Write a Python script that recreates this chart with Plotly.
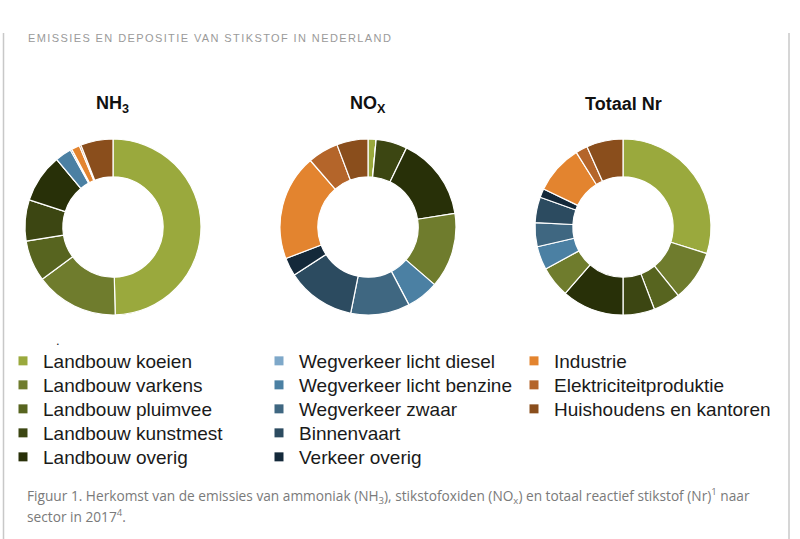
import plotly.graph_objects as go

W, H = 800, 539

# ---------------- data ----------------
sectors = [
    "Landbouw koeien", "Landbouw varkens", "Landbouw pluimvee",
    "Landbouw kunstmest", "Landbouw overig",
    "Wegverkeer licht diesel", "Wegverkeer licht benzine",
    "Wegverkeer zwaar", "Binnenvaart", "Verkeer overig",
    "Industrie", "Elektriciteitproduktie", "Huishoudens en kantoren",
]
legend_colors = [
    "#9aa93d", "#6f7c2d", "#57641f", "#3c4612", "#283008",
    "#7ea8c9", "#4b80a3", "#3f6781", "#2c4b60", "#14293a",
    "#e3842f", "#b4652a", "#8a4e1c",
]
# in the donuts the "licht diesel" slice is drawn in olive
slice_colors = [
    "#9aa93d", "#6f7c2d", "#57641f", "#3c4612", "#283008",
    "#6f7c2d", "#4b80a3", "#3f6781", "#2c4b60", "#14293a",
    "#e3842f", "#b4652a", "#8a4e1c",
]
nh3_share = [49.3, 15.2, 7.5, 7.5, 8.9, 0.0, 3.0, 0.3, 0.0, 0.0, 1.5, 0.3, 5.9]
nox_share = [1.5, 0.0, 0.0, 5.8, 15.5, 14.0, 6.0, 11.0, 12.8, 3.4, 19.7, 5.7, 5.8]
nr_share = [29.9, 9.3, 5.0, 5.8, 11.4, 5.7, 4.3, 4.4, 4.7, 1.6, 9.0, 2.2, 6.7]
chart_titles = ["<b>NH<sub>3</sub></b>", "<b>NO<sub>X</sub></b>", "<b>Totaal Nr</b>"]
legend_column_of = [0, 0, 0, 0, 0, 1, 1, 1, 1, 1, 2, 2, 2]
legend_row_of = [0, 1, 2, 3, 4, 0, 1, 2, 3, 4, 0, 1, 2]

header = "EMISSIES EN DEPOSITIE VAN STIKSTOF IN NEDERLAND"
caption1 = ("Figuur 1. Herkomst van de emissies van ammoniak (NH<sub>3</sub>), "
            "stikstofoxiden (NO<sub>x</sub>) en totaal reactief stikstof (Nr)<sup>1</sup> naar")
caption2 = "sector in 2017<sup>4</sup>."


def px(x):
    return x / W


def py(y):
    return 1 - y / H


# ---------------- figure ----------------
fig = go.Figure()

centers_x = [113, 368, 623]
cy, r = 227, 88
for vals, cx in zip([nh3_share, nox_share, nr_share], centers_x):
    fig.add_trace(go.Pie(
        labels=sectors, values=vals, hole=0.57, sort=False,
        direction="clockwise", rotation=0,
        marker=dict(colors=slice_colors, line=dict(color="white", width=1.2)),
        textinfo="none", hoverinfo="label+percent", showlegend=False,
        domain=dict(x=[px(cx - r), px(cx + r)], y=[py(cy + r), py(cy - r)]),
    ))

# one small legend per entry so that rows sit at the reference spacing
legend_text_x = [43, 299, 554]
legend_row_y0, legend_row_dy = 361, 24
legend_font = dict(family="Liberation Sans, Arial, sans-serif", size=19, color="#1a1a1a")
layout_legends = {}
for i, name in enumerate(sectors):
    lid = "legend" if i == 0 else f"legend{i + 1}"
    fig.add_trace(go.Scatter(
        x=[None], y=[None], mode="markers", name=name, legend=lid,
        marker=dict(symbol="square", size=9, color=legend_colors[i]),
        hoverinfo="skip",
    ))
    xt = legend_text_x[legend_column_of[i]]
    yc = legend_row_y0 + legend_row_dy * legend_row_of[i]
    layout_legends[lid] = dict(
        x=px(xt - 40), y=py(yc), xanchor="left", yanchor="middle",
        font=legend_font, bgcolor="rgba(0,0,0,0)", borderwidth=0,
        itemclick=False, itemdoubleclick=False,
    )

annotations = []
for t, cx in zip(chart_titles, centers_x):
    annotations.append(dict(
        text=t, x=px(cx), y=py(104), xref="paper", yref="paper",
        xanchor="center", yanchor="middle", showarrow=False,
        font=dict(family="Liberation Sans, Arial, sans-serif", size=18, color="#111111"),
    ))
annotations.append(dict(
    text='<span style="letter-spacing:1.4px">' + header + "</span>",
    x=px(26), y=py(38), xref="paper", yref="paper", xanchor="left", yanchor="middle",
    showarrow=False, font=dict(family="Liberation Sans, Arial, sans-serif", size=11, color="#9a9a9a"),
))
annotations.append(dict(
    text=caption1, x=px(25), y=py(496), xref="paper", yref="paper",
    xanchor="left", yanchor="middle", showarrow=False,
    font=dict(family="Open Sans, Liberation Sans, sans-serif", size=13.7, color="#7a7a7a"),
))
annotations.append(dict(
    text=caption2, x=px(25), y=py(516), xref="paper", yref="paper",
    xanchor="left", yanchor="middle", showarrow=False,
    font=dict(family="Open Sans, Liberation Sans, sans-serif", size=13.7, color="#7a7a7a"),
))
annotations.append(dict(
    text=".", x=px(58), y=py(340), xref="paper", yref="paper",
    xanchor="center", yanchor="middle", showarrow=False,
    font=dict(family="Liberation Sans, Arial, sans-serif", size=13, color="#222222"),
))

shapes = [
    dict(type="line", xref="paper", yref="paper", x0=px(3.5), x1=px(3.5),
         y0=py(33), y1=py(539), line=dict(color="#c8c8c8", width=1.5)),
    dict(type="line", xref="paper", yref="paper", x0=px(789), x1=px(789),
         y0=py(33), y1=py(539), line=dict(color="#c8c8c8", width=1.5)),
]

fig.update_layout(
    width=W, height=H, margin=dict(l=0, r=0, t=0, b=0),
    paper_bgcolor="white", plot_bgcolor="white",
    xaxis=dict(visible=False), yaxis=dict(visible=False),
    annotations=annotations, shapes=shapes, showlegend=True,
    **layout_legends,
)

fig.write_html(
    "out.html",
    config={"displayModeBar": False},
    post_script="document.body.style.margin='0px';document.body.style.overflow='hidden';",
)
